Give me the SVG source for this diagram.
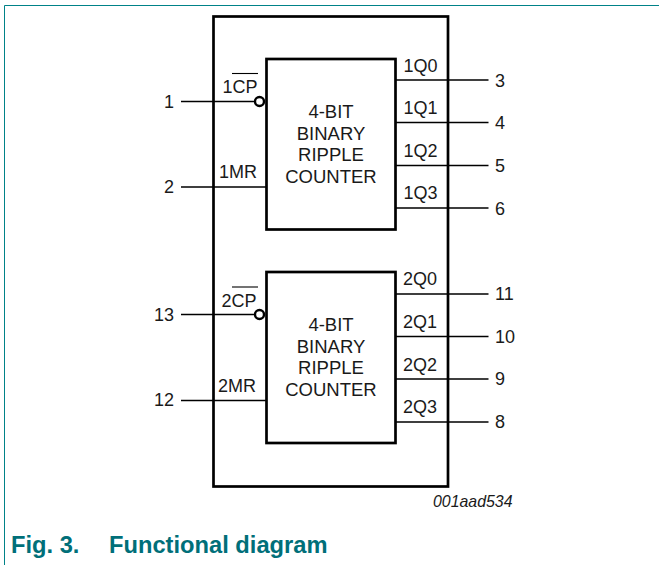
<svg xmlns="http://www.w3.org/2000/svg" width="659" height="565" viewBox="0 0 659 565">
<style>
text{font-family:"Liberation Sans",Arial,sans-serif;font-size:18px;fill:#1a1a1a}
.m{text-anchor:middle;font-size:18.500px}
.e{text-anchor:end}
.box{fill:none;stroke:#000;stroke-width:2.7}
.w{stroke:#000;stroke-width:1.3;fill:none}
.ov{stroke:#000;stroke-width:1.1;fill:none}
.bub{fill:#fff;stroke:#000;stroke-width:2.4}
.fr{stroke:#008288;stroke-width:1;fill:none}
.cap{font-weight:bold;font-size:23.700px;fill:#006f79}
</style>
<g id="frame"><path class="fr" d="M659 5.500H4.500V565"/></g>
<g id="package"><rect class="box" x="213.500" y="16.500" width="234.500" height="470"/></g>
<g id="counter1">
<rect class="box" x="266.500" y="59" width="129" height="170.500"/>
<text class="m" x="331" y="118">4-BIT</text><text class="m" x="331" y="140">BINARY</text><text class="m" x="331" y="161">RIPPLE</text><text class="m" x="331" y="183">COUNTER</text>
<text x="222.500" y="93">1CP</text><path class="ov" d="M232 73.500H258"/>
<text x="219" y="178">1MR</text>
<text x="403.500" y="72">1Q0</text><text x="403.500" y="114">1Q1</text><text x="403.500" y="157">1Q2</text><text x="403.500" y="199">1Q3</text>
</g>
<g id="counter2">
<rect class="box" x="266.500" y="272" width="129" height="171"/>
<text class="m" x="331" y="331">4-BIT</text><text class="m" x="331" y="353">BINARY</text><text class="m" x="331" y="374">RIPPLE</text><text class="m" x="331" y="396">COUNTER</text>
<text x="221.500" y="307">2CP</text><path class="ov" d="M232 287H258"/>
<text x="218" y="392">2MR</text>
<text x="403" y="285">2Q0</text><text x="403" y="328">2Q1</text><text x="403" y="370.500">2Q2</text><text x="403" y="413">2Q3</text>
</g>
<g id="connectors">
<path class="w" d="M181 101.500H256M181 187H266M181 314.500H256M181 400.500H266"/>
<path class="w" d="M395 80H488.500M395 122.500H488.500M395 165.500H488.500M395 208H488.500M395 294H488.500M395 336.500H488.500M395 379H488.500M395 422H488.500"/>
<circle class="bub" cx="259.500" cy="101.500" r="4.500"/>
<circle class="bub" cx="259.500" cy="314.500" r="4.500"/>
</g>
<g id="pins">
<text class="e" x="174" y="108">1</text><text class="e" x="174" y="193">2</text><text class="e" x="174" y="321">13</text><text class="e" x="174" y="406">12</text>
<text x="495" y="87">3</text><text x="495" y="129">4</text><text x="495" y="172">5</text><text x="495" y="215">6</text>
<text x="495" y="300">11</text><text x="495" y="343">10</text><text x="495" y="385">9</text><text x="495" y="428">8</text>
</g>
<text x="512.500" y="507" class="e" style="font-style:italic;font-size:15.900px">001aad534</text>
<g id="caption"><text class="cap" x="11" y="552.500">Fig. 3.</text><text class="cap" x="109" y="552.500">Functional diagram</text></g>
</svg>
